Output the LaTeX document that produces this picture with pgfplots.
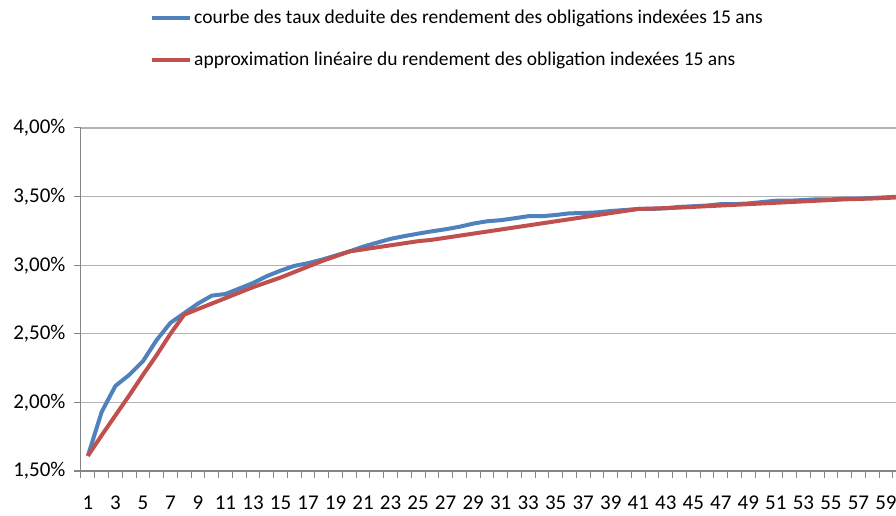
\documentclass[border=0pt]{standalone}
\usepackage{fontspec}
\setmainfont{Carlito}
\usepackage{pgfplots}
\pgfplotsset{compat=1.18}
\definecolor{cblue}{HTML}{4F81BD}
\definecolor{cred}{HTML}{C0504D}
\definecolor{gridc}{HTML}{B3B3B3}
\definecolor{axc}{HTML}{868686}
\begin{document}
\begin{tikzpicture}
\begin{axis}[
  scale only axis,
  width=815pt, height=343pt,
  xmin=0.5, xmax=59.73,
  ymin=1.5, ymax=4.0,
  axis lines=left,
  axis line style={draw=axc, line width=1pt, -},
  clip=true,
  ytick={1.5,2.0,2.5,3.0,3.5,4.0},
  ymajorgrids,
  grid style={draw=gridc, line width=1.2pt},
  xtick={1,3,...,59},
  minor xtick={0.5,1.5,...,59.5},
  major x tick style={draw=none},
  minor x tick style={draw=axc, line width=1pt},
  minor tick length=7pt,
  major tick length=7pt,
  y tick style={draw=axc, line width=1pt},
  tick align=outside,
  tick pos=left,
  /pgf/number format/assume math mode=true,
  yticklabel={\pgfmathprintnumber[fixed,fixed zerofill,precision=2,use comma]{\tick}\%},
  ticklabel style={font=\fontsize{21}{25}\selectfont, text=black},
  xticklabel style={yshift=-14pt},
  yticklabel style={xshift=-5pt},
  legend style={at={(0.0847,1.35)}, anchor=north west, draw=none, fill=none,
    font=\fontsize{19.5}{23}\selectfont, row sep=23pt, inner sep=0pt,
    nodes={inner sep=2pt}},
  legend cell align=left,
  legend image code/.code={\draw[#1] (0pt,0pt) -- (38pt,0pt);},
]
\addplot[cblue, line width=4pt, line join=round] coordinates {
(1,1.61) (2,1.93) (3,2.12) (4,2.20) (5,2.30) (6,2.455) (7,2.58) (8,2.65) (9,2.72) (10,2.778)
(11,2.79) (12,2.83) (13,2.87) (14,2.92) (15,2.96) (16,2.995) (17,3.015) (18,3.04) (19,3.07) (20,3.10)
(21,3.135) (22,3.164) (23,3.192) (24,3.212) (25,3.23) (26,3.247) (27,3.262) (28,3.28) (29,3.303) (30,3.32)
(31,3.328) (32,3.342) (33,3.357) (34,3.357) (35,3.366) (36,3.378) (37,3.38) (38,3.385) (39,3.395) (40,3.402)
(41,3.41) (42,3.41) (43,3.415) (44,3.425) (45,3.43) (46,3.435) (47,3.445) (48,3.445) (49,3.45) (50,3.46)
(51,3.47) (52,3.47) (53,3.475) (54,3.48) (55,3.48) (56,3.485) (57,3.485) (58,3.49) (59,3.495) (60,3.50)
};
\addlegendentry{courbe des taux deduite des rendement des obligations indexées 15 ans}
\addplot[cred, line width=4pt, line join=round] coordinates {
(1,1.61) (2,1.76) (3,1.905) (4,2.05) (5,2.20) (6,2.345) (7,2.50) (8,2.64) (9,2.68) (10,2.72)
(11,2.76) (12,2.80) (13,2.84) (14,2.875) (15,2.91) (16,2.95) (17,2.99) (18,3.03) (19,3.065) (20,3.10)
(21,3.115) (22,3.13) (23,3.145) (24,3.16) (25,3.175) (26,3.185) (27,3.20) (28,3.215) (29,3.23) (30,3.245)
(31,3.26) (32,3.275) (33,3.29) (34,3.305) (35,3.32) (36,3.335) (37,3.35) (38,3.365) (39,3.38) (40,3.395)
(41,3.41) (42,3.413) (43,3.416) (44,3.42) (45,3.425) (46,3.43) (47,3.435) (48,3.44) (49,3.445) (50,3.45)
(51,3.455) (52,3.46) (53,3.465) (54,3.47) (55,3.475) (56,3.48) (57,3.483) (58,3.486) (59,3.49) (60,3.495)
};
\addlegendentry{approximation linéaire du rendement des obligation indexées 15 ans}
\coordinate (bl) at (rel axis cs:0,0);
\end{axis}
\pgfresetboundingbox
\path ([xshift=-81pt,yshift=-45pt]bl) rectangle ([xshift=815pt,yshift=471pt]bl);
\end{tikzpicture}
\end{document}
